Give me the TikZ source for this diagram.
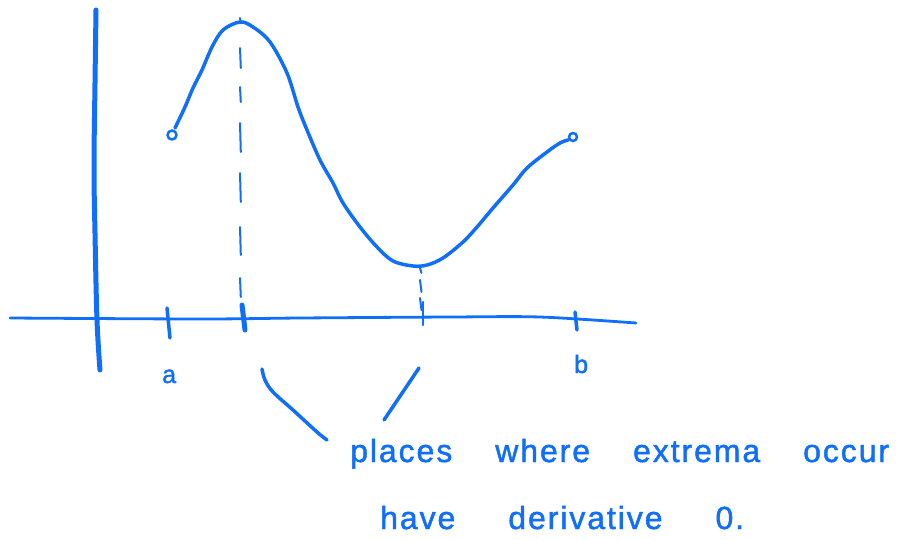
\documentclass[tikz,border=0pt]{standalone}
\usepackage{fontspec}
\setmainfont{Liberation Sans}
\newfontfamily\hand[LetterSpace=6,FakeBold=1.4]{Liberation Sans}
\definecolor{ink}{RGB}{15,110,250}
\begin{document}
\begin{tikzpicture}[x=1pt,y=-1pt,
  pen/.style={draw=ink,line cap=round,line join=round},
  lbl/.style={text=ink,inner sep=0pt,anchor=base west}]
\useasboundingbox (0,0) rectangle (898,539);
% axes
\draw[pen,line width=5pt] plot[smooth,tension=0.6] coordinates {(96,10) (95,83) (94,167) (95,233) (97,320) (100,370)};
\draw[pen,line width=2.8pt] plot[smooth,tension=0.5] coordinates {(10,318) (200,319) (300,318) (450,317) (540,317) (636,323)};
% ticks
\draw[pen,line width=3.5pt] (167,308) -- (170,338);
\draw[pen,line width=5pt] (242,305) -- (245,330);
\draw[pen,line width=2.5pt] (423,302) -- (423,325);
\draw[pen,line width=3.5pt] (575,312) -- (577,330);
% tick labels
\node[lbl,font=\hand\fontsize{25}{28}\selectfont] (la) at (162,383) {a};
\node[lbl,font=\hand\fontsize{25}{28}\selectfont] (lb) at (574,373) {b};
% curve
\draw[pen,line width=3.5pt] plot[smooth,tension=0.55] coordinates {
 (175,128) (185,107) (193,88) (202,70) (212,47) (223,30) (240,22) (253,27) (270,42)
 (287,73) (298,107) (307,130) (320,160) (333,183) (343,203) (360,227) (377,247)
 (393,261) (413,266) (427,265) (443,258) (463,242) (477,227) (493,208) (513,185)
 (527,168) (547,152) (560,143) (568,140)};
\draw[pen,line width=2.5pt] (172,135) circle[radius=4.5];
\draw[pen,line width=2.5pt] (573,137) circle[radius=4];
% dashed drop from maximum
\foreach \a/\b in {18/23,48/68,87/102,123/152,173/202,227/255,278/297}
  \draw[pen,line width=2pt] (240,\a) -- (240.8,\b);
% dotted drop from minimum
\foreach \a/\b in {268/273,280/292,298/310}
  \draw[pen,line width=2pt] (420,\a) -- (421.5,\b);
% pointers to the note
\draw[pen,line width=3.5pt] plot[smooth,tension=0.6] coordinates {(262,369) (265,380) (273,392) (293,410) (317,432) (327,440)};
\draw[pen,line width=3.5pt] (419,368) -- (384,420);
% note
\node[lbl,font=\hand\fontsize{32}{36}\selectfont] (note1) at (350,462) {\spaceskip=43pt places where extrema occur};
\node[lbl,font=\hand\fontsize{32}{36}\selectfont] (note2) at (380,529) {\spaceskip=53pt have derivative 0.};
\end{tikzpicture}
\end{document}
